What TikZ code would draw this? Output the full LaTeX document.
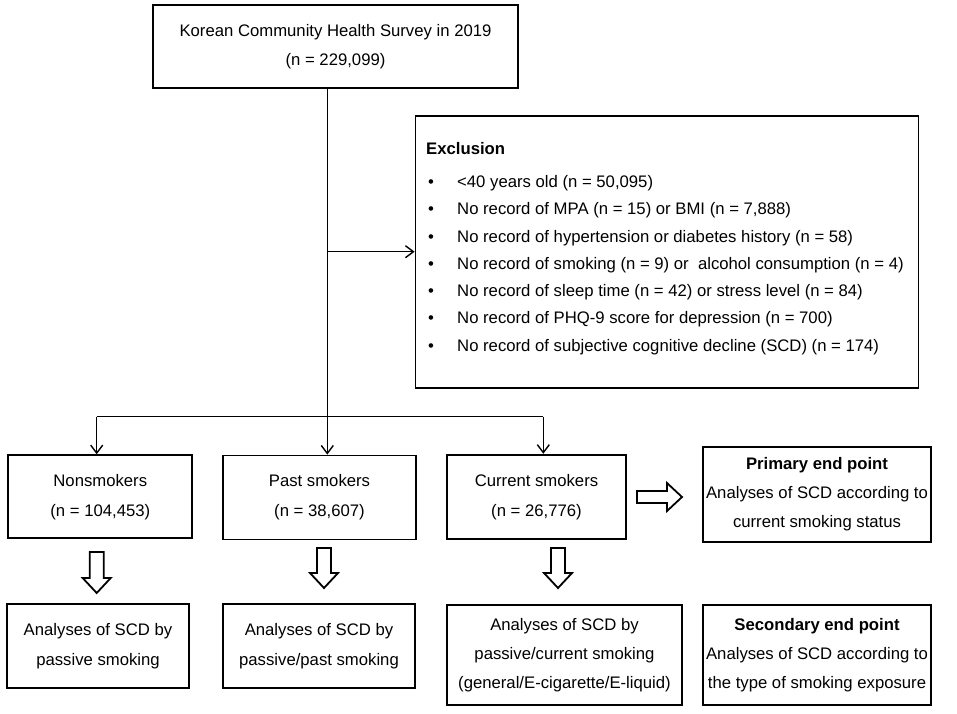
\documentclass[tikz,border=0pt]{standalone}
\usepackage{fontspec}
\setmainfont{Liberation Sans}
\usetikzlibrary{arrows.meta}
\begin{document}
\begin{tikzpicture}[x=1pt,y=-1pt,
  box/.style={draw=black,line width=1.8pt,rectangle,inner sep=0pt,align=center,
    font=\fontsize{16.7}{30}\selectfont},
  conn/.style={line width=1.4pt},
  arr/.style={line width=1.4pt,-{Straight Barb[length=8pt,width=12pt,line width=1.4pt]}},
  hollow/.style={draw=black,fill=white,line width=1.8pt,line join=miter},
  txt/.style={inner sep=0pt,anchor=base west,font=\fontsize{16.7}{20}\selectfont}]
\useasboundingbox (0,0) rectangle (957,713);

% boxes
\node[box,minimum width=365pt,minimum height=83pt] (top) at (335.5,46.5)
  {Korean Community Health Survey in 2019\\[-1pt](n = 229,099)};
\node[box,minimum width=503pt,minimum height=272pt] (excl) at (667,252) {};

\node[txt,font=\fontsize{16.7}{20}\selectfont\bfseries] (exh) at (426,154) {Exclusion};
\foreach \i/\t in {0/{<40 years old (n = 50,095)},
                   1/{No record of MPA (n = 15) or BMI (n = 7,888)},
                   2/{No record of hypertension or diabetes history (n = 58)},
                   3/{No record of smoking (n = 9) or\ \ alcohol consumption (n = 4)},
                   4/{No record of sleep time (n = 42) or stress level (n = 84)},
                   5/{No record of PHQ-9 score for depression (n = 700)},
                   6/{No record of subjective cognitive decline (SCD) (n = 174)}}{
  \node[txt] (exb\i) at (428,187.5+27.25*\i) {•};
  \node[txt] (ex\i) at (457,187.5+27.25*\i) {\t};
}

\node[box,minimum width=184pt,minimum height=83pt] (ns) at (100.3,496.7)
  {Nonsmokers\\(n = 104,453)};
\node[box,minimum width=193pt,minimum height=84pt] (ps) at (319.5,497.5)
  {Past smokers\\(n = 38,607)};
\node[box,minimum width=179pt,minimum height=84pt] (cs) at (536.5,496.7)
  {Current smokers\\(n = 26,776)};
\node[box,minimum width=228pt,minimum height=95pt] (pe) at (817,494.5)
  {\bfseries Primary end point\\[-1pt]Analyses of SCD according to\\[-1pt]current smoking status};

\node[box,minimum width=182pt,minimum height=84pt] (na) at (98,646)
  {Analyses of SCD by\\passive smoking};
\node[box,minimum width=192pt,minimum height=84pt] (pa) at (319,646)
  {Analyses of SCD by\\passive/past smoking};
\node[box,minimum width=235pt,minimum height=100pt] (ca) at (564.5,655)
  {Analyses of SCD by\\[-1pt]passive/current smoking\\[-1pt](general/E-cigarette/E-liquid)};
\node[box,minimum width=228pt,minimum height=100pt] (se) at (817,655)
  {\bfseries Secondary end point\\[-1pt]Analyses of SCD according to\\[-1pt]the type of smoking exposure};

% thin connectors
\coordinate (j) at (327.3,416.7);
\coordinate (e) at (327.3,251.7);
\coordinate (j1) at (96.7,416.7);
\coordinate (j3) at (543.3,416.7);
\draw[conn] (top.south -| j) -- (j);
\draw[arr] (e) -- (e -| excl.west);
\draw[conn] (j1) -- (j3);
\draw[arr] (j1) -- (j1 |- ns.north);
\draw[arr] (j) -- (j |- ps.north);
\draw[arr] (j3) -- (j3 |- cs.north);

% hollow arrows
\coordinate (h1) at (96.7,552);
\coordinate (h2) at (324,548);
\coordinate (h3) at (558,548);
\foreach \h/\L in {h1/26,h2/25,h3/25}{
  \draw[hollow] (\h) ++(-7,0) -- ++(14,0) -- ++(0,\L) -- ++(7,0) -- ++(-14,15)
     -- ++(-14,-15) -- ++(7,0) -- cycle;
}
\coordinate (hr) at (637,497);
\draw[hollow] (hr) ++(0,-6) -- ++(30,0) -- ++(0,-8) -- ++(15,14) -- ++(-15,14)
   -- ++(0,-8) -- ++(-30,0) -- cycle;
\end{tikzpicture}
\end{document}
